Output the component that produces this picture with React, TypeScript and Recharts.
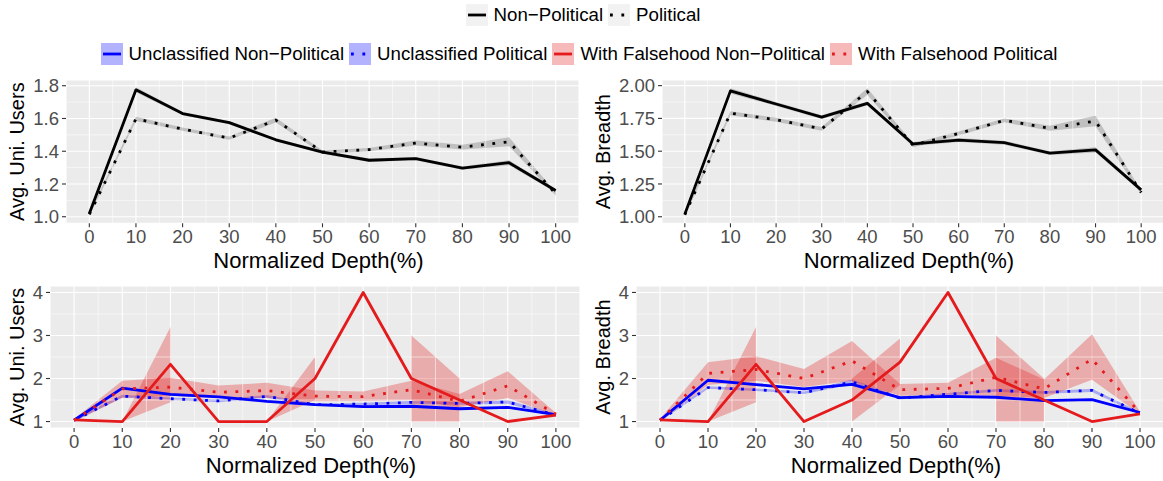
import React from 'react';
import { ComposedChart, Line, Area, XAxis, YAxis, CartesianGrid, ReferenceLine, Label } from 'recharts';

// ---------- data ----------
const DEPTH = [0, 10, 20, 30, 40, 50, 60, 70, 80, 90, 100];
const X_MINOR = [5, 15, 25, 35, 45, 55, 65, 75, 85, 95];

// legend labels
const LEGEND_ROW1 = ['Non\u2212Political', 'Political'];
const LEGEND_ROW2 = [
  'Unclassified Non\u2212Political',
  'Unclassified Political',
  'With Falsehood Non\u2212Political',
  'With Falsehood Political',
];

// Top-left: Avg. Uni. Users
const usersNonPol = [1.02, 1.775, 1.63, 1.575, 1.47, 1.395, 1.345, 1.355, 1.297, 1.33, 1.16];
const usersNonPolLo = [1.01, 1.76, 1.62, 1.565, 1.46, 1.385, 1.335, 1.345, 1.287, 1.315, 1.15];
const usersNonPolHi = [1.03, 1.79, 1.64, 1.585, 1.48, 1.405, 1.355, 1.365, 1.307, 1.345, 1.17];
const usersPol = [1.015, 1.598, 1.535, 1.48, 1.59, 1.395, 1.41, 1.45, 1.425, 1.458, 1.14];
const usersPolLo = [1.005, 1.585, 1.525, 1.47, 1.575, 1.385, 1.4, 1.435, 1.41, 1.43, 1.13];
const usersPolHi = [1.025, 1.61, 1.545, 1.49, 1.605, 1.405, 1.42, 1.465, 1.44, 1.485, 1.15];

// Top-right: Avg. Breadth
const breadthNonPol = [1.02, 1.96, 1.86, 1.76, 1.865, 1.555, 1.585, 1.565, 1.485, 1.51, 1.205];
const breadthNonPolLo = [1.005, 1.94, 1.845, 1.745, 1.85, 1.54, 1.57, 1.55, 1.47, 1.49, 1.19];
const breadthNonPolHi = [1.035, 1.98, 1.875, 1.775, 1.88, 1.57, 1.6, 1.58, 1.5, 1.53, 1.22];
const breadthPol = [1.015, 1.79, 1.74, 1.67, 1.955, 1.545, 1.635, 1.735, 1.675, 1.73, 1.185];
const breadthPolLo = [1.0, 1.775, 1.725, 1.655, 1.93, 1.53, 1.62, 1.72, 1.655, 1.69, 1.17];
const breadthPolHi = [1.03, 1.805, 1.755, 1.685, 1.98, 1.56, 1.65, 1.75, 1.695, 1.77, 1.2];

// Bottom-left: Avg. Uni. Users by class
const uUnclNonPol = [1.03, 1.775, 1.63, 1.575, 1.47, 1.395, 1.345, 1.355, 1.297, 1.33, 1.16];
const uUnclNonPolLo = [1.01, 1.755, 1.61, 1.555, 1.45, 1.375, 1.325, 1.335, 1.277, 1.31, 1.14];
const uUnclNonPolHi = [1.05, 1.795, 1.65, 1.595, 1.49, 1.415, 1.365, 1.375, 1.317, 1.35, 1.18];
const uUnclPol = [1.03, 1.59, 1.53, 1.48, 1.585, 1.39, 1.405, 1.445, 1.42, 1.455, 1.15];
const uUnclPolLo = [1.0, 1.56, 1.5, 1.45, 1.555, 1.36, 1.375, 1.415, 1.39, 1.415, 1.12];
const uUnclPolHi = [1.06, 1.62, 1.56, 1.51, 1.615, 1.42, 1.435, 1.475, 1.45, 1.495, 1.18];
const uFalseNonPol = [1.04, 1.0, 2.33, 1.0, 1.0, 2.0, 4.0, 2.0, 1.5, 1.0, 1.15];
const uFalseNonPolLo = [1.02, 1.0, 1.45, null, 1.0, 1.5, null, 1.0, 1.0, null, null];
const uFalseNonPolHi = [1.06, 1.0, 3.2, null, 1.0, 2.5, null, 3.0, 2.0, null, null];
const uFalsePol = [1.03, 1.76, 1.8, 1.68, 1.72, 1.59, 1.58, 1.74, 1.47, 1.83, 1.17];
const uFalsePolLo = [1.0, 1.55, 1.6, 1.55, 1.55, 1.47, 1.48, 1.5, 1.33, 1.55, 1.14];
const uFalsePolHi = [1.06, 1.95, 2.02, 1.84, 1.9, 1.72, 1.7, 1.95, 1.64, 2.17, 1.2];

// Bottom-right: Avg. Breadth by class
const bUnclNonPol = [1.03, 1.96, 1.86, 1.76, 1.865, 1.555, 1.585, 1.565, 1.485, 1.51, 1.21];
const bUnclNonPolLo = [1.01, 1.94, 1.84, 1.74, 1.845, 1.535, 1.565, 1.545, 1.465, 1.49, 1.19];
const bUnclNonPolHi = [1.05, 1.98, 1.88, 1.78, 1.885, 1.575, 1.605, 1.585, 1.505, 1.53, 1.23];
const bUnclPol = [1.03, 1.79, 1.74, 1.67, 1.92, 1.545, 1.635, 1.725, 1.675, 1.725, 1.19];
const bUnclPolLo = [1.0, 1.76, 1.71, 1.64, 1.86, 1.515, 1.605, 1.695, 1.645, 1.685, 1.16];
const bUnclPolHi = [1.06, 1.82, 1.77, 1.7, 1.98, 1.575, 1.665, 1.755, 1.705, 1.765, 1.22];
const bFalseNonPol = [1.04, 1.0, 2.33, 1.0, 1.5, 2.38, 4.0, 2.0, 1.5, 1.0, 1.18];
const bFalseNonPolLo = [1.02, 1.0, 1.45, null, 1.0, 1.85, null, 1.0, 1.0, null, null];
const bFalseNonPolHi = [1.06, 1.0, 3.2, null, 2.0, 2.93, null, 3.0, 2.0, null, null];
const bFalsePol = [1.03, 2.12, 2.21, 2.0, 2.41, 1.74, 1.77, 2.03, 1.76, 2.45, 1.2];
const bFalsePolLo = [1.0, 1.85, 1.95, 1.8, 1.95, 1.6, 1.62, 1.6, 1.55, 1.97, 1.17];
const bFalsePolHi = [1.06, 2.38, 2.52, 2.22, 2.87, 1.87, 1.9, 2.48, 1.98, 3.03, 1.23];

// axis ticks
const TL_Y_TICKS = [1.0, 1.2, 1.4, 1.6, 1.8];
const TL_Y_MINOR = [1.1, 1.3, 1.5, 1.7];
const TR_Y_TICKS = [1.0, 1.25, 1.5, 1.75, 2.0];
const TR_Y_MINOR = [1.125, 1.375, 1.625, 1.875];
const B_Y_TICKS = [1, 2, 3, 4];
const B_Y_MINOR = [1.5, 2.5, 3.5];

// ---------- styling ----------
const FONT = "'Liberation Sans', Arial, Helvetica, sans-serif";
const BLACK = '#000000';
const BLUE = '#0000FF';
const RED = '#E41A1C';
const GREY_FILL = '#7F7F7F';
const LINE_W = 2.8;
const DOT_DASH = '2.8 8.6';
const TICK_FS = 18.5;
const X_TITLE_FS = 22;
const Y_TITLE_FS = 20;
const LEGEND_FS = 18.7;

type Band = (number | null)[];
const pair = (lo: Band, hi: Band, i: number) =>
  lo[i] == null || hi[i] == null ? null : [lo[i] as number, hi[i] as number];

const topLeftRows = DEPTH.map((d, i) => ({
  depth: d,
  s1: usersNonPol[i],
  s2: usersPol[i],
  b1: pair(usersNonPolLo, usersNonPolHi, i),
  b2: pair(usersPolLo, usersPolHi, i),
}));
const topRightRows = DEPTH.map((d, i) => ({
  depth: d,
  s1: breadthNonPol[i],
  s2: breadthPol[i],
  b1: pair(breadthNonPolLo, breadthNonPolHi, i),
  b2: pair(breadthPolLo, breadthPolHi, i),
}));
const bottomLeftRows = DEPTH.map((d, i) => ({
  depth: d,
  s1: uUnclNonPol[i],
  s2: uUnclPol[i],
  s3: uFalseNonPol[i],
  s4: uFalsePol[i],
  b1: pair(uUnclNonPolLo, uUnclNonPolHi, i),
  b2: pair(uUnclPolLo, uUnclPolHi, i),
  b3: pair(uFalseNonPolLo, uFalseNonPolHi, i),
  b4: pair(uFalsePolLo, uFalsePolHi, i),
}));
const bottomRightRows = DEPTH.map((d, i) => ({
  depth: d,
  s1: bUnclNonPol[i],
  s2: bUnclPol[i],
  s3: bFalseNonPol[i],
  s4: bFalsePol[i],
  b1: pair(bUnclNonPolLo, bUnclNonPolHi, i),
  b2: pair(bUnclPolLo, bUnclPolHi, i),
  b3: pair(bFalseNonPolLo, bFalseNonPolHi, i),
  b4: pair(bFalsePolLo, bFalsePolHi, i),
}));

type SeriesDef = { key: string; band: string; color: string; fill: string; fillOpacity: number; dotted: boolean };

const TOP_SERIES: SeriesDef[] = [
  { key: 's1', band: 'b1', color: BLACK, fill: GREY_FILL, fillOpacity: 0.4, dotted: false },
  { key: 's2', band: 'b2', color: BLACK, fill: GREY_FILL, fillOpacity: 0.4, dotted: true },
];
const BOTTOM_SERIES: SeriesDef[] = [
  { key: 's1', band: 'b1', color: BLUE, fill: BLUE, fillOpacity: 0.28, dotted: false },
  { key: 's2', band: 'b2', color: BLUE, fill: BLUE, fillOpacity: 0.28, dotted: true },
  { key: 's3', band: 'b3', color: RED, fill: RED, fillOpacity: 0.3, dotted: false },
  { key: 's4', band: 'b4', color: RED, fill: RED, fillOpacity: 0.3, dotted: true },
];

type PanelProps = {
  left: number;
  top: number;
  width: number;
  height: number;
  yAxisWidth: number;
  plotTop: number;
  plotHeight: number;
  marginRight: number;
  rows: any[];
  series: SeriesDef[];
  yDomain: [number, number];
  yTicks: number[];
  yMinor: number[];
  yDigits: number;
  yTitle: string;
  yTitleX: number;
};

function Panel(p: PanelProps) {
  const xAxisHeight = p.height - p.plotTop - p.plotHeight;
  const renderYTitle = (props: any) => {
    const vb = props.viewBox || {};
    const cx = vb.x + p.yTitleX;
    const cy = vb.y + vb.height / 2;
    return (
      <text
        x={cx}
        y={cy}
        transform={`rotate(-90, ${cx}, ${cy})`}
        textAnchor="middle"
        dominantBaseline="central"
        fontSize={Y_TITLE_FS}
        fill="#000000"
        fontFamily={FONT}
      >
        {p.yTitle}
      </text>
    );
  };
  const renderXTitle = (props: any) => {
    const vb = props.viewBox || {};
    return (
      <text
        x={vb.x + vb.width / 2 - 4}
        y={vb.y + 37}
        textAnchor="middle"
        dominantBaseline="central"
        fontSize={X_TITLE_FS}
        fill="#000000"
        fontFamily={FONT}
      >
        Normalized Depth(%)
      </text>
    );
  };
  return (
    <div style={{ position: 'absolute', left: p.left, top: p.top, width: p.width, height: p.height }}>
      <ComposedChart
        width={p.width}
        height={p.height}
        data={p.rows}
        margin={{ top: p.plotTop, right: p.marginRight, bottom: 0, left: 0 }}
      >
        <CartesianGrid fill="#EBEBEB" stroke="#FFFFFF" strokeWidth={1.1} />
        {X_MINOR.map((v) => (
          <ReferenceLine key={'xm' + v} x={v} stroke="#FFFFFF" strokeWidth={0.55} ifOverflow="hidden" />
        ))}
        {p.yMinor.map((v) => (
          <ReferenceLine key={'ym' + v} y={v} stroke="#FFFFFF" strokeWidth={0.55} ifOverflow="hidden" />
        ))}
        <XAxis
          type="number"
          dataKey="depth"
          domain={[-5, 105]}
          ticks={DEPTH}
          interval={0}
          allowDataOverflow
          height={xAxisHeight}
          axisLine={false}
          tickSize={4}
          tickMargin={3}
          tickLine={{ stroke: '#333333', strokeWidth: 1.1 }}
          tick={{ fill: '#4D4D4D', fontSize: TICK_FS, fontFamily: FONT }}
        >
          <Label content={renderXTitle} />
        </XAxis>
        <YAxis
          type="number"
          domain={p.yDomain}
          ticks={p.yTicks}
          interval={0}
          allowDataOverflow
          width={p.yAxisWidth}
          axisLine={false}
          tickSize={4}
          tickMargin={3}
          tickLine={{ stroke: '#333333', strokeWidth: 1.1 }}
          tick={{ fill: '#4D4D4D', fontSize: TICK_FS, fontFamily: FONT }}
          tickFormatter={(v: number) => v.toFixed(p.yDigits)}
        >
          <Label content={renderYTitle} />
        </YAxis>
        {p.series.map((s) => (
          <Area
            key={'a' + s.key}
            type="linear"
            dataKey={s.band}
            stroke="none"
            fill={s.fill}
            fillOpacity={s.fillOpacity}
            connectNulls={false}
            dot={false}
            activeDot={false}
            isAnimationActive={false}
          />
        ))}
        {p.series.map((s) => (
          <Line
            key={'l' + s.key}
            type="linear"
            dataKey={s.key}
            stroke={s.color}
            strokeWidth={LINE_W}
            strokeDasharray={s.dotted ? DOT_DASH : undefined}
            strokeLinecap="butt"
            strokeLinejoin="round"
            dot={false}
            activeDot={false}
            isAnimationActive={false}
          />
        ))}
      </ComposedChart>
    </div>
  );
}

function LegendKey({ bg, bgOpacity, color, dotted }: { bg: string; bgOpacity: number; color: string; dotted: boolean }) {
  return (
    <svg width={22} height={22} style={{ display: 'block', flex: '0 0 auto' }}>
      <rect x={0} y={0} width={22} height={22} fill="#FFFFFF" />
      <rect x={0} y={0} width={22} height={22} fill={bg} fillOpacity={bgOpacity} />
      <line
        x1={2}
        x2={20}
        y1={11}
        y2={11}
        stroke={color}
        strokeWidth={LINE_W}
        strokeDasharray={dotted ? DOT_DASH : undefined}
      />
    </svg>
  );
}

function LegendItem({ label, children }: { label: string; children: React.ReactNode }) {
  return (
    <div style={{ display: 'flex', alignItems: 'center', marginRight: 5 }}>
      {children}
      <span style={{ marginLeft: 6, fontSize: LEGEND_FS, color: '#000', whiteSpace: 'nowrap', lineHeight: '22px' }}>
        {label}
      </span>
    </div>
  );
}

export default function App() {
  const row2Colors = [BLUE, BLUE, RED, RED];
  return (
    <div
      style={{
        position: 'absolute',
        left: 0,
        top: 0,
        width: 1163,
        height: 481,
        overflow: 'hidden',
        background: '#FFFFFF',
        fontFamily: FONT,
      }}
    >
      <div
        style={{ position: 'absolute', left: 0, top: 4, width: 1163, height: 22, display: 'flex', justifyContent: 'center', paddingLeft: 8, boxSizing: 'border-box' }}
      >
        {LEGEND_ROW1.map((lab, i) => (
          <LegendItem key={lab} label={lab}>
            <LegendKey bg="#F2F2F2" bgOpacity={1} color={BLACK} dotted={i === 1} />
          </LegendItem>
        ))}
      </div>
      <div
        style={{ position: 'absolute', left: 0, top: 43, width: 1163, height: 22, display: 'flex', justifyContent: 'center' }}
      >
        {LEGEND_ROW2.map((lab, i) => (
          <LegendItem key={lab} label={lab}>
            <LegendKey bg={row2Colors[i]} bgOpacity={0.3} color={row2Colors[i]} dotted={i % 2 === 1} />
          </LegendItem>
        ))}
      </div>

      <Panel
        left={0}
        top={66}
        width={580}
        height={209}
        yAxisWidth={66}
        plotTop={14}
        plotHeight={143.3}
        marginRight={1}
        rows={topLeftRows}
        series={TOP_SERIES}
        yDomain={[0.96, 1.835]}
        yTicks={TL_Y_TICKS}
        yMinor={TL_Y_MINOR}
        yDigits={1}
        yTitle="Avg. Uni. Users"
        yTitleX={17}
      />
      <Panel
        left={580}
        top={66}
        width={584}
        height={209}
        yAxisWidth={82}
        plotTop={14}
        plotHeight={143.3}
        marginRight={0}
        rows={topRightRows}
        series={TOP_SERIES}
        yDomain={[0.95, 2.043]}
        yTicks={TR_Y_TICKS}
        yMinor={TR_Y_MINOR}
        yDigits={2}
        yTitle="Avg. Breadth"
        yTitleX={23}
      />
      <Panel
        left={0}
        top={272}
        width={580}
        height={209}
        yAxisWidth={50}
        plotTop={14}
        plotHeight={142}
        marginRight={0}
        rows={bottomLeftRows}
        series={BOTTOM_SERIES}
        yDomain={[0.85, 4.15]}
        yTicks={B_Y_TICKS}
        yMinor={B_Y_MINOR}
        yDigits={0}
        yTitle="Avg. Uni. Users"
        yTitleX={17}
      />
      <Panel
        left={580}
        top={272}
        width={584}
        height={209}
        yAxisWidth={56}
        plotTop={14}
        plotHeight={142}
        marginRight={0}
        rows={bottomRightRows}
        series={BOTTOM_SERIES}
        yDomain={[0.85, 4.15]}
        yTicks={B_Y_TICKS}
        yMinor={B_Y_MINOR}
        yDigits={0}
        yTitle="Avg. Breadth"
        yTitleX={23}
      />
    </div>
  );
}
